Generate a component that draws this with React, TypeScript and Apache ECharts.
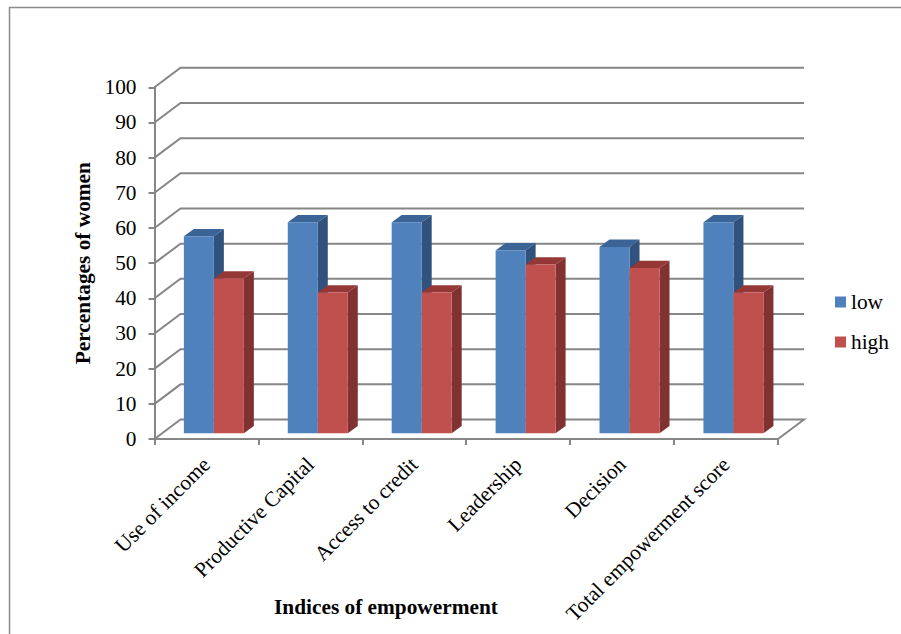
import React, { useEffect, useRef } from "react";
import * as echarts from "echarts";

const categories = ["Use of income", "Productive Capital", "Access to credit", "Leadership", "Decision", "Total empowerment score"];
const lowValues = [56, 60, 60, 52, 53, 60];
const highValues = [44, 40, 40, 48, 47, 40];
const yTicks = [0, 10, 20, 30, 40, 50, 60, 70, 80, 90, 100];

const FONT = "'Liberation Serif', serif";
const FS = 21.33;
const AXIS = "#868686";
const WALL_DX = 26;
const WALL_DY = -19.5;
const BAR_W = 30;
const BAR_SHIFT_X = 7.4;
const BAR_SHIFT_Y = -5.7;
const BAR_DX = 10;
const BAR_DY = -7.3;

const wallRender = (_p: any, api: any) => {
  const v = api.value(0);
  const band = api.size([1, 0])[0];
  const first = api.coord([0, v]);
  const last = api.coord([categories.length - 1, v]);
  const xl = first[0] - band / 2;
  const xr = last[0] + band / 2;
  const y = first[1];
  const pts: number[][] = [[xl, y], [xl + WALL_DX, y + WALL_DY], [xr + WALL_DX, y + WALL_DY]];
  if (v === 0) pts.push([xr, y]);
  return {
    type: "polyline",
    shape: { points: pts },
    style: { stroke: AXIS, lineWidth: 2, fill: "none" },
  };
};

const barRender = (offset: number, front: string, top: string, side: string) => (_p: any, api: any) => {
  const i = api.value(0);
  const v = api.value(1);
  const p = api.coord([i, v]);
  const b = api.coord([i, 0]);
  const x0 = p[0] + BAR_SHIFT_X + offset;
  const x1 = x0 + BAR_W;
  const yt = p[1] + BAR_SHIFT_Y;
  const yb = b[1] + BAR_SHIFT_Y;
  return {
    type: "group",
    children: [
      { type: "polygon", shape: { points: [[x1, yt], [x1 + BAR_DX, yt + BAR_DY], [x1 + BAR_DX, yb + BAR_DY], [x1, yb]] }, style: { fill: side } },
      { type: "polygon", shape: { points: [[x0, yt], [x0 + BAR_DX, yt + BAR_DY], [x1 + BAR_DX, yt + BAR_DY], [x1, yt]] }, style: { fill: top } },
      { type: "rect", shape: { x: x0, y: yt, width: BAR_W, height: yb - yt }, style: { fill: front } },
    ],
  };
};

export default function App() {
  const ref = useRef<HTMLDivElement>(null);
  useEffect(() => {
    const chart = echarts.init(ref.current!, undefined, { renderer: "svg" });
    chart.setOption({
      animation: false,
      backgroundColor: "#fff",
      textStyle: { fontFamily: FONT },
      grid: { left: 154.5, top: 87.3, width: 623.5, height: 351.7 },
      legend: {
        orient: "vertical",
        left: 830,
        top: 286.5,
        itemWidth: 11,
        itemHeight: 11,
        itemGap: 19,
        icon: "rect",
        data: ["low", "high"],
        textStyle: { fontFamily: FONT, fontSize: FS, color: "#000" },
      },
      xAxis: {
        type: "category",
        data: categories,
        axisLine: { lineStyle: { color: AXIS, width: 2 } },
        axisTick: { show: true, length: 6, lineStyle: { color: AXIS, width: 2 } },
        axisLabel: { rotate: 45, interval: 0, margin: 22, fontFamily: FONT, fontSize: FS, color: "#000" },
      },
      yAxis: {
        type: "value",
        min: 0,
        max: 100,
        interval: 10,
        name: "Percentages of women",
        nameLocation: "middle",
        nameGap: 60,
        nameTextStyle: { fontFamily: FONT, fontSize: FS, fontWeight: "bold", color: "#000" },
        splitLine: { show: false },
        axisLine: { show: true, lineStyle: { color: AXIS, width: 2 } },
        axisTick: { show: true, length: 6, lineStyle: { color: AXIS, width: 2 } },
        axisLabel: { margin: 18, fontFamily: FONT, fontSize: FS, color: "#000" },
      },
      graphic: [
        { type: "polyline", silent: true, shape: { points: [[9.5, 634], [9.5, 7.5], [901, 7.5]] }, style: { stroke: "#8c8c8c", lineWidth: 1.5, fill: "none" } },
        { type: "text", left: 274, top: 596, style: { text: "Indices of empowerment", font: `bold ${FS}px ${FONT}`, fill: "#000" } },
      ],
      series: [
        { type: "custom", name: "wall", silent: true, z: 1, clip: false, data: yTicks.map((v) => [v]), encode: { y: 0 }, renderItem: wallRender },
        { type: "custom", name: "low", z: 2, clip: false, itemStyle: { color: "#4F81BD" }, data: lowValues.map((v, i) => [i, v]), encode: { x: 0, y: 1 }, renderItem: barRender(-BAR_W, "#4F81BD", "#3A6396", "#30527C") },
        { type: "custom", name: "high", z: 3, clip: false, itemStyle: { color: "#C0504D" }, data: highValues.map((v, i) => [i, v]), encode: { x: 0, y: 1 }, renderItem: barRender(0, "#C0504D", "#953735", "#7F3230") },
      ],
    });
    return () => chart.dispose();
  }, []);
  return <div ref={ref} style={{ position: "absolute", left: 0, top: 0, width: 901, height: 634 }} />;
}
